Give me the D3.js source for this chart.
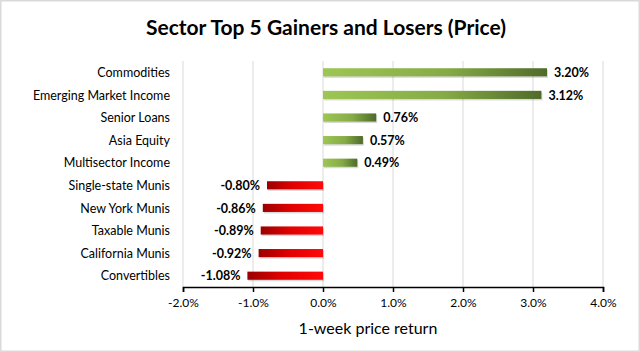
<!DOCTYPE html>
<html>
<head>
<meta charset="utf-8">
<script src="https://cdn.jsdelivr.net/npm/d3@7"></script>
<style>
  body { margin: 0; background: #fff; }
  svg text { font-family: Lato, "Open Sans", sans-serif; }
</style>
</head>
<body>
<div id="chart"></div>
<script>
// chart values
const categories = ["Commodities", "Emerging Market Income", "Senior Loans", "Asia Equity",
    "Multisector Income", "Single-state Munis", "New York Munis", "Taxable Munis",
    "California Munis", "Convertibles"];
const returns = [3.20, 3.12, 0.76, 0.57, 0.49, -0.80, -0.86, -0.89, -0.92, -1.08];
const tickValues = [-2, -1, 0, 1, 2, 3, 4];

const W = 640, H = 352;
const margin = {top: 61, right: 37, bottom: 65, left: 183};
const width = W - margin.left - margin.right;
const height = H - margin.top - margin.bottom;

// plain hyphen instead of d3's unicode minus
const pct = (d, p) => d3.format("." + p + "f")(d).replace("\u2212", "-") + "%";

const svg = d3.select("#chart").append("svg")
    .attr("width", W)
    .attr("height", H);

// outer frame
svg.append("rect")
    .attr("x", 0.5).attr("y", 0.5)
    .attr("width", W - 1).attr("height", H - 1)
    .attr("fill", "#fff")
    .attr("stroke", "#d9d9d9")
    .attr("stroke-width", 2);

const defs = svg.append("defs");
let gPos = defs.append("linearGradient").attr("id", "gPos")
    .attr("x1", "0%").attr("x2", "100%");
gPos.append("stop").attr("offset", "0%").attr("stop-color", "#9dc653");
gPos.append("stop").attr("offset", "55%").attr("stop-color", "#86ab46");
gPos.append("stop").attr("offset", "100%").attr("stop-color", "#4f6b2a");

let gNeg = defs.append("linearGradient").attr("id", "gNeg")
    .attr("x1", "0%").attr("x2", "100%");
gNeg.append("stop").attr("offset", "0%").attr("stop-color", "#9a0000");
gNeg.append("stop").attr("offset", "45%").attr("stop-color", "#e00000");
gNeg.append("stop").attr("offset", "100%").attr("stop-color", "#ff0a0a");

svg.append("text")
    .attr("x", 326)
    .attr("y", 35)
    .attr("text-anchor", "middle")
    .attr("font-size", 21)
    .attr("font-weight", "bold")
    .attr("fill", "#000")
    .text("Sector Top 5 Gainers and Losers (Price)");

const g = svg.append("g")
    .attr("transform", `translate(${margin.left},${margin.top})`);

const x = d3.scaleLinear()
    .domain([-2, 4])
    .range([0, width]);

const y = d3.scaleBand()
    .domain(categories)
    .range([0, height])
    .paddingInner(0.64)
    .paddingOuter(0.32);

// gridlines
g.selectAll(".grid")
    .data(tickValues)
    .enter()
    .append("line")
    .attr("class", "grid")
    .attr("x1", d => x(d)).attr("x2", d => x(d))
    .attr("y1", 0).attr("y2", height)
    .attr("stroke", "#d9d9d9")
    .attr("stroke-width", 1);

// bars
const rows = categories.map((c, i) => ({name: c, value: returns[i]}));

g.selectAll(".shadow")
    .data(rows)
    .enter()
    .append("rect")
    .attr("x", d => x(Math.min(0, d.value)) + 1)
    .attr("y", d => y(d.name) + 1.5)
    .attr("width", d => Math.abs(x(d.value) - x(0)))
    .attr("height", y.bandwidth())
    .attr("fill", "#000")
    .attr("opacity", 0.15);

g.selectAll(".bar")
    .data(rows)
    .enter()
    .append("rect")
    .attr("class", "bar")
    .attr("x", d => x(Math.min(0, d.value)))
    .attr("y", d => y(d.name))
    .attr("width", d => Math.abs(x(d.value) - x(0)))
    .attr("height", y.bandwidth())
    .attr("fill", d => d.value >= 0 ? "url(#gPos)" : "url(#gNeg)");

// value labels
g.selectAll(".val")
    .data(rows)
    .enter()
    .append("text")
    .attr("x", d => d.value >= 0 ? x(d.value) + 7 : x(d.value) - 7)
    .attr("y", d => y(d.name) + y.bandwidth() / 2)
    .attr("dy", "0.38em")
    .attr("text-anchor", d => d.value >= 0 ? "start" : "end")
    .attr("font-size", 12.5)
    .attr("font-weight", "bold")
    .attr("fill", "#000")
    .text(d => pct(d.value, 2));

// category labels
g.selectAll(".cat")
    .data(categories)
    .enter()
    .append("text")
    .attr("x", -13)
    .attr("y", d => y(d) + y.bandwidth() / 2)
    .attr("dy", "0.38em")
    .attr("text-anchor", "end")
    .attr("font-size", 12.5)
    .attr("fill", "#000")
    .text(d => d);

// x axis
const xAxis = d3.axisBottom(x)
    .tickValues(tickValues)
    .tickSize(5)
    .tickFormat(d => pct(d, 1));

const ax = g.append("g")
    .attr("transform", `translate(0,${height})`)
    .call(xAxis);
ax.select(".domain").attr("stroke", "#000").attr("stroke-width", 1.5);
ax.selectAll(".tick line").attr("stroke", "#000").attr("stroke-width", 1.5);
ax.selectAll(".tick text")
    .attr("dy", "1em")
    .attr("font-size", 12)
    .attr("fill", "#000");

svg.append("text")
    .attr("x", 368)
    .attr("y", 334)
    .attr("text-anchor", "middle")
    .attr("font-size", 16)
    .attr("fill", "#000")
    .text("1-week price return");
</script>
</body>
</html>
